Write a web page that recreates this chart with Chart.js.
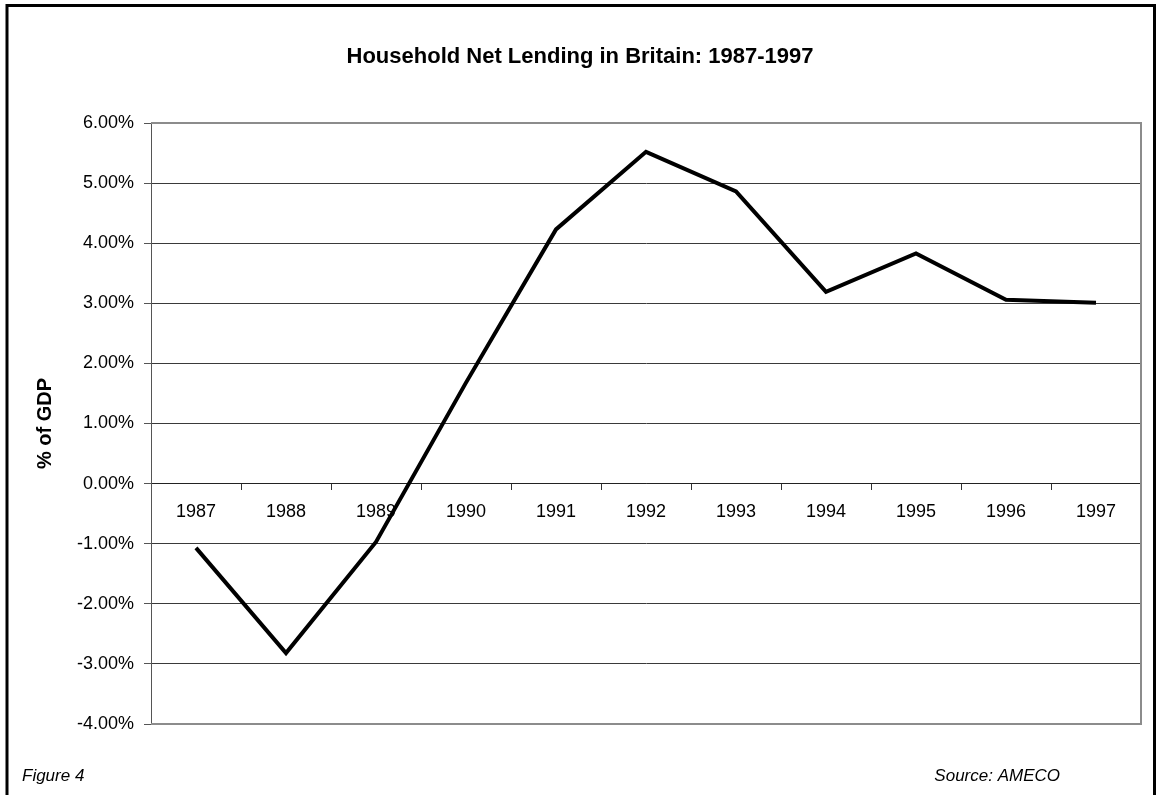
<!DOCTYPE html>
<html>
<head>
<meta charset="utf-8">
<title>Household Net Lending in Britain: 1987-1997</title>
<script src="https://cdn.jsdelivr.net/npm/chart.js@4.4.1/dist/chart.umd.min.js"></script>
<style>
  html, body { margin: 0; padding: 0; background: #fff; }
  #wrap { position: relative; width: 1156px; height: 795px; }
</style>
</head>
<body>
<div id="wrap"><canvas id="myChart" width="1156" height="795"></canvas></div>
<script>
// household net lending, % of GDP
const years = ['1987', '1988', '1989', '1990', '1991', '1992', '1993', '1994', '1995', '1996', '1997'];
const netLending = [-1.07, -2.82, -0.97, 1.68, 4.23, 5.52, 4.86, 3.19, 3.83, 3.06, 3.01];
const yMin = -4;
const yMax = 6;
const yStep = 1;

const chartTitle = 'Household Net Lending in Britain: 1987-1997';
const yAxisTitle = '% of GDP';
const figureNote = 'Figure 4';
const sourceNote = 'Source: AMECO';

const FONT = "'Liberation Sans', Arial, Helvetica, sans-serif";

// frame, plot border and loose texts
const decorations = {
  id: 'decorations',
  beforeDatasetsDraw(chart) {
    const ctx = chart.ctx;
    const a = chart.chartArea;
    ctx.save();
    // grey box round the plot
    ctx.strokeStyle = '#8c8c8c';
    ctx.lineWidth = 2;
    ctx.beginPath();
    ctx.moveTo(a.left, a.top);
    ctx.lineTo(a.right, a.top);
    ctx.lineTo(a.right, a.bottom);
    ctx.lineTo(a.left, a.bottom);
    ctx.stroke();
    ctx.restore();
  },
  afterDraw(chart) {
    const ctx = chart.ctx;
    const a = chart.chartArea;
    ctx.save();
    // outer frame
    ctx.strokeStyle = '#000';
    ctx.lineWidth = 3;
    ctx.beginPath();
    ctx.moveTo(7, 800);
    ctx.lineTo(7, 5.5);
    ctx.lineTo(1154.5, 5.5);
    ctx.lineTo(1154.5, 800);
    ctx.stroke();

    ctx.fillStyle = '#000';
    ctx.textBaseline = 'middle';
    ctx.textAlign = 'center';
    ctx.font = 'bold 22px ' + FONT;
    ctx.fillText(chartTitle, 580, 57);

    ctx.save();
    ctx.translate(45, (a.top + a.bottom) / 2);
    ctx.rotate(-Math.PI / 2);
    ctx.font = 'bold 20px ' + FONT;
    ctx.fillText(yAxisTitle, 0, 0);
    ctx.restore();

    ctx.font = 'italic 17px ' + FONT;
    ctx.textAlign = 'left';
    ctx.fillText(figureNote, 22, 776);
    ctx.textAlign = 'right';
    ctx.fillText(sourceNote, 1060, 776);
    ctx.restore();
  }
};

const data = {
  labels: years,
  datasets: [{
    label: 'Net lending',
    data: netLending,
    borderColor: '#000',
    backgroundColor: '#000',
    borderWidth: 4,
    pointRadius: 0,
    tension: 0,
    fill: false
  }]
};

const config = {
  type: 'line',
  data: data,
  options: {
    responsive: false,
    animation: false,
    devicePixelRatio: 1,
    layout: { padding: { left: 0, top: 123, right: 15, bottom: 71 } },
    plugins: {
      legend: { display: false },
      title: { display: false },
      tooltip: { enabled: false }
    },
    scales: {
      x: {
        type: 'category',
        position: { y: 0 },
        offset: true,
        grid: {
          display: true,
          offset: true,
          drawOnChartArea: false,
          drawTicks: true,
          tickLength: 6,
          color: '#333'
        },
        border: { display: true, color: '#222', width: 1 },
        ticks: {
          autoSkip: false,
          maxRotation: 0,
          padding: 12,
          color: '#000',
          font: { family: FONT, size: 18 }
        }
      },
      y: {
        min: yMin,
        max: yMax,
        afterFit(scale) { scale.width = 151; },
        grid: {
          color: (c) => (c.tick && (c.tick.value === yMin || c.tick.value === yMax)) ? 'rgba(0,0,0,0)' : '#3a3a3a',
          lineWidth: 1,
          drawTicks: true,
          tickLength: 7,
          tickColor: '#555'
        },
        border: { display: true, color: '#555', width: 1 },
        ticks: {
          stepSize: yStep,
          padding: 10,
          color: '#000',
          font: { family: FONT, size: 18 },
          callback: (v) => v.toFixed(2) + '%'
        }
      }
    }
  },
  plugins: [decorations]
};

new Chart(document.getElementById('myChart'), config);
</script>
</body>
</html>
